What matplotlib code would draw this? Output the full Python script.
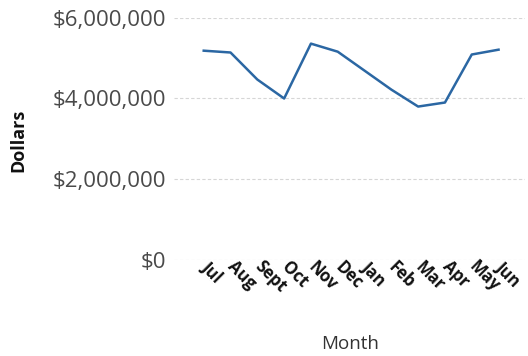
import matplotlib
matplotlib.use("Agg")
from matplotlib import pyplot as plt
from matplotlib.ticker import FuncFormatter

months = ["Jul", "Aug", "Sept", "Oct", "Nov", "Dec", "Jan", "Feb", "Mar", "Apr", "May", "Jun"]
dollars = [5185000, 5140000, 4470000, 4000000, 5360000, 5160000,
           4690000, 4220000, 3800000, 3900000, 5090000, 5210000]
y_ticks = [0, 2000000, 4000000, 6000000]

plt.rcParams['font.family'] = ['Open Sans', 'DejaVu Sans']

fig = plt.figure(figsize=(5.28, 3.56), dpi=100)
ax = fig.add_axes([0.33, 0.27, 0.665, 0.68])

x = list(range(len(months)))
ax.plot(x, dollars, color='#2b67a3', linewidth=1.8, zorder=3)

ax.set_ylim(0, 6000000)
ax.set_yticks(y_ticks)
ax.yaxis.set_major_formatter(FuncFormatter(lambda v, p: f'${v:,.0f}'))
ax.set_xlim(-1.1, 12.0)
ax.set_xticks(x)
ax.set_xticklabels(months, rotation=-45, ha='left', va='center',
                   rotation_mode='anchor', fontweight='bold', fontsize=12, color='#111111')

ax.grid(axis='y', color='#d6d6d6', linestyle=(0, (3, 2)), linewidth=0.8, zorder=0)
for s in ax.spines.values():
    s.set_visible(False)
ax.tick_params(axis='both', length=0)
ax.tick_params(axis='y', labelsize=16, labelcolor='#4a4a4a', pad=6)
ax.tick_params(axis='x', pad=3)

ax.set_xlabel('Month', fontsize=13.5, color='#333333', labelpad=28)
fig.text(0.035, 0.605, 'Dollars', rotation=90, fontsize=13, fontweight='bold',
         color='#111111', ha='center', va='center')

fig.savefig('out.png', dpi=100)
